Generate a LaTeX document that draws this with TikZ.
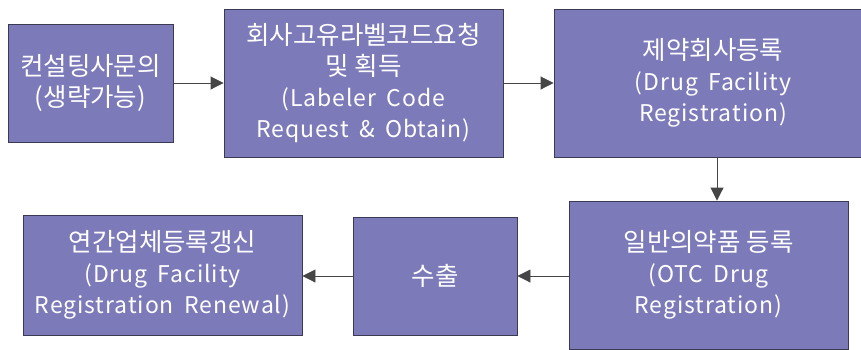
\documentclass[tikz,border=0pt]{standalone}
\usepackage{fontspec}
\newfontfamily\kr{Noto Sans CJK KR}
\newfontfamily\lat[LetterSpace=4,WordSpace=1.7]{Noto Sans CJK KR}
\usetikzlibrary{arrows.meta}
\definecolor{boxfill}{RGB}{124,122,184}
\definecolor{boxline}{RGB}{58,58,82}
\definecolor{arrowline}{RGB}{70,70,70}
% Latin lines are set a little smaller and more widely spaced than Hangul
\newcommand{\en}[1]{{\lat\fontsize{23}{31}\selectfont #1}}
\tikzset{
  stepbox/.style={rectangle, fill=boxfill, draw=boxline, line width=0.9pt,
    text=white, align=center, inner sep=0pt,
    font=\kr\fontsize{25.5}{31}\selectfont},
  flow/.style={draw=arrowline, line width=0.9pt,
    -{Triangle[length=13pt,width=13pt]}}
}
\begin{document}
\begin{tikzpicture}[x=1pt,y=-1pt]
\useasboundingbox (0,0) rectangle (861,349);
\clip (0,0) rectangle (861,349);
\fill[white] (0,0) rectangle (861,349);

% top row
\node[stepbox, minimum width=165pt, minimum height=118pt] (consult) at (90.5,83)
  {컨설팅사문의\\(생략가능)};
\node[stepbox, minimum width=279pt, minimum height=148pt] (labeler) at (363.5,83)
  {회사고유라벨코드요청\\및 획득\\\en{(Labeler Code}\\\en{Request \& Obtain)}};
\node[stepbox, minimum width=318pt, minimum height=148pt] (facility) at (713,83)
  {제약회사등록\\\en{(Drug Facility}\\\en{Registration)}};

% bottom row
\node[stepbox, minimum width=279pt, minimum height=148pt] (otc) at (708.5,275)
  {일반의약품 등록\\\en{(OTC Drug}\\\en{Registration)}};
\node[stepbox, minimum width=164pt, minimum height=118pt] (export) at (435,276)
  {수출};
\node[stepbox, minimum width=279pt, minimum height=120pt] (renewal) at (162.5,275)
  {연간업체등록갱신\\\en{(Drug Facility}\\\en{Registration Renewal)}};

% connectors
\draw[flow] (consult.east) -- (labeler.west);
\draw[flow] (labeler.east) -- (facility.west);
\draw[flow] (facility.south -| 717,0) -- (otc.north -| 717,0);
\draw[flow] (otc.west |- 0,276) -- (export.east |- 0,276);
\draw[flow] (export.west) -- (renewal.east |- export.west);
\end{tikzpicture}
\end{document}
